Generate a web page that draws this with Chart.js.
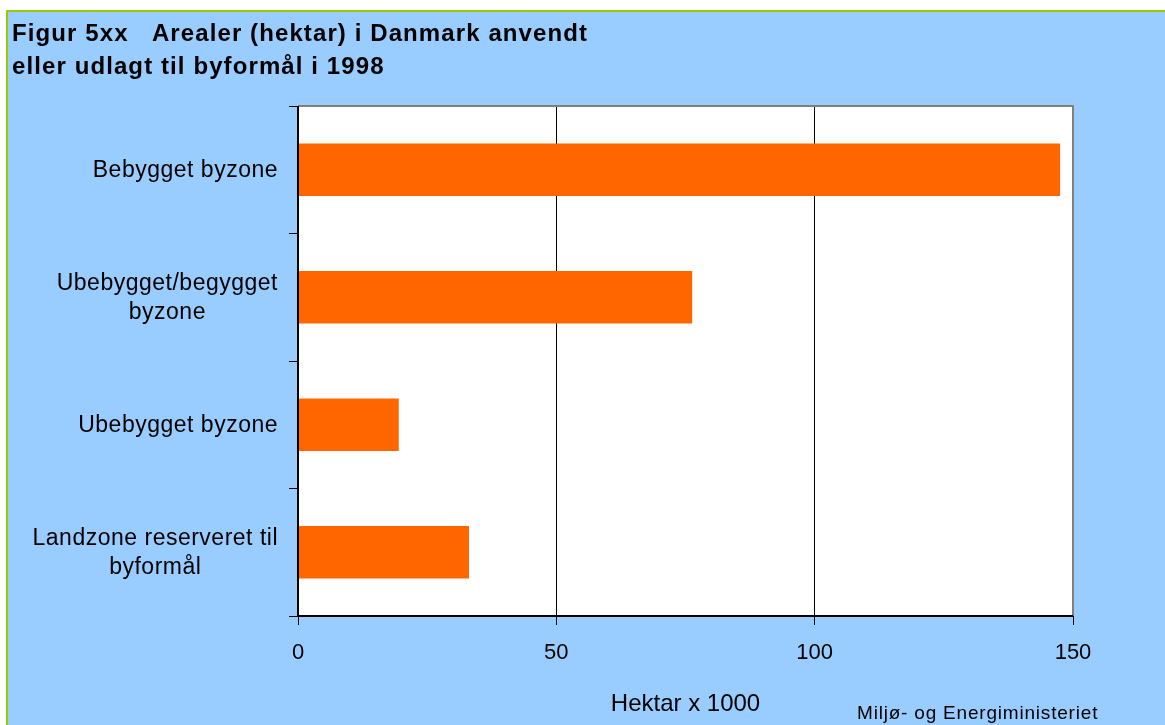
<!DOCTYPE html>
<html lang="da">
<head>
<meta charset="utf-8">
<title>Arealer til byformål 1998</title>
<script src="https://cdn.jsdelivr.net/npm/chart.js@4/dist/chart.umd.min.js"></script>
<style>
  html, body { margin: 0; padding: 0; background: #fff; overflow: hidden; }
  #ramme {
    position: absolute; left: 6px; top: 10px; width: 1200px; height: 760px;
    background: #99ccff; border-left: 2px solid #99cc00; border-top: 2px solid #99cc00;
  }
  #boks { position: absolute; left: 0; top: 0; width: 1165px; height: 725px; }
</style>
</head>
<body>
<div id="ramme"></div>
<div id="boks"><canvas id="grafik" width="1165" height="725"></canvas></div>
<script>
// Data (hektar x 1000)
const kategorier = [
  ['Bebygget byzone'],
  ['Ubebygget/begygget', 'byzone'],
  ['Ubebygget byzone'],
  ['Landzone reserveret til', 'byformål']
];
const arealer = [147.5, 76.3, 19.5, 33.1];
const xTicks = [0, 50, 100, 150];
const titelLinjer = ['Figur 5xx   Arealer (hektar) i Danmark anvendt', 'eller udlagt til byformål i 1998'];
const aksetitel = 'Hektar x 1000';
const kilde = 'Miljø- og Energiministeriet';

const SKRIFT = "'Liberation Sans', Arial, sans-serif";

// Tegner plotbaggrund, rammer, kategorinavne, titel og kilde.
const tegning = {
  id: 'tegning',
  beforeDraw(chart) {
    const { ctx, chartArea: a } = chart;
    ctx.save();
    ctx.fillStyle = '#ffffff';
    ctx.fillRect(a.left, a.top, a.right - a.left, a.bottom - a.top);
    ctx.restore();
  },
  afterDraw(chart) {
    const { ctx, chartArea: a } = chart;
    const y = chart.scales.y;
    ctx.save();

    // grå ramme øverst og til højre
    ctx.strokeStyle = '#808080';
    ctx.lineWidth = 2;
    ctx.beginPath();
    ctx.moveTo(a.left, a.top);
    ctx.lineTo(a.right, a.top);
    ctx.lineTo(a.right, a.bottom);
    ctx.stroke();

    // sorte akselinjer
    ctx.strokeStyle = '#000000';
    ctx.lineWidth = 2;
    ctx.beginPath();
    ctx.moveTo(a.left, a.top);
    ctx.lineTo(a.left, a.bottom);
    ctx.lineTo(a.right, a.bottom);
    ctx.stroke();

    // kategorinavne: blokken højrestillet, linjerne centreret i blokken
    ctx.fillStyle = '#000000';
    ctx.font = '23px ' + SKRIFT;
    ctx.letterSpacing = '0.5px';
    ctx.textAlign = 'center';
    ctx.textBaseline = 'middle';
    const hoejre = a.left - 20;
    const linjeafstand = 28.5;
    kategorier.forEach((linjer, i) => {
      const midt = y.getPixelForTick(i);
      const bredde = Math.max(...linjer.map((l) => ctx.measureText(l).width));
      const cx = hoejre - bredde / 2;
      const start = midt - ((linjer.length - 1) * linjeafstand) / 2 + 1;
      linjer.forEach((l, j) => ctx.fillText(l, cx, start + j * linjeafstand));
    });

    // titel
    ctx.textAlign = 'left';
    ctx.textBaseline = 'alphabetic';
    ctx.font = 'bold 24px ' + SKRIFT;
    ctx.letterSpacing = '1.1px';
    ctx.fillText(titelLinjer[0], 12, 41);
    ctx.fillText(titelLinjer[1], 12, 74);

    // kilde
    ctx.font = '19px ' + SKRIFT;
    ctx.letterSpacing = '0.8px';
    ctx.fillText(kilde, 857, 719);

    ctx.restore();
  }
};

new Chart(document.getElementById('grafik'), {
  type: 'bar',
  data: {
    labels: kategorier,
    datasets: [{
      data: arealer,
      backgroundColor: '#ff6600',
      borderWidth: 0,
      barPercentage: 0.41,
      categoryPercentage: 1
    }]
  },
  options: {
    indexAxis: 'y',
    responsive: false,
    animation: false,
    events: [],
    layout: { padding: { top: 106, right: 92, left: 0, bottom: 0 } },
    plugins: {
      legend: { display: false },
      tooltip: { enabled: false }
    },
    scales: {
      x: {
        min: 0,
        max: 150,
        afterBuildTicks: (s) => { s.ticks = xTicks.map((v) => ({ value: v })); },
        afterFit: (s) => { s.height = 109; },
        border: { display: false },
        grid: { color: '#000000', lineWidth: 1, tickLength: 9 },
        ticks: { color: '#000000', padding: 15, font: { family: SKRIFT, size: 22 } },
        title: {
          display: true,
          text: aksetitel,
          color: '#000000',
          font: { family: SKRIFT, size: 24 },
          padding: { top: 0, bottom: 6 }
        }
      },
      y: {
        afterFit: (s) => { s.width = 298; },
        border: { display: false },
        grid: { drawOnChartArea: false, offset: true, color: '#000000', lineWidth: 1, tickLength: 9 },
        ticks: { display: false }
      }
    }
  },
  plugins: [tegning]
});
</script>
</body>
</html>
